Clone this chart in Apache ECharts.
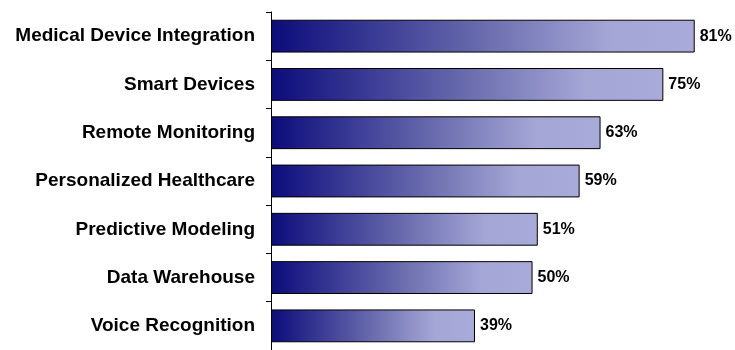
<!DOCTYPE html>
<html>
<head>
<meta charset="utf-8">
<script src="https://cdn.jsdelivr.net/npm/echarts@6/dist/echarts.min.js"></script>
<style>
  html, body { margin: 0; padding: 0; background: #fff; }
  #chart { width: 735px; height: 350px; }
</style>
</head>
<body>
<div id="chart"></div>
<script>
// Share of respondents per technology area (top to bottom)
const categories = [
  'Medical Device Integration',
  'Smart Devices',
  'Remote Monitoring',
  'Personalized Healthcare',
  'Predictive Modeling',
  'Data Warehouse',
  'Voice Recognition'
];
const values = [81, 75, 63, 59, 51, 50, 39];

const chart = echarts.init(document.getElementById('chart'));

const barFill = new echarts.graphic.LinearGradient(0, 0, 1, 0, [
  { offset: 0, color: '#0c0c7c' },
  { offset: 0.5, color: '#6a6cae' },
  { offset: 0.8, color: '#a4a6d6' },
  { offset: 1, color: '#a8aad9' }
]);

chart.setOption({
  animation: false,
  grid: { left: 271, top: 12, right: 0, bottom: -5, containLabel: false },
  xAxis: {
    type: 'value',
    min: 0,
    max: 88.7,
    show: false
  },
  yAxis: {
    type: 'category',
    inverse: true,
    data: categories,
    axisLine: { show: true, lineStyle: { color: '#000', width: 1 } },
    axisTick: { show: true, length: 5, lineStyle: { color: '#000' } },
    axisLabel: {
      color: '#000',
      fontFamily: 'Liberation Sans, Arial, sans-serif',
      fontWeight: 'bold',
      fontSize: 19,
      margin: 16
    },
    splitLine: { show: false }
  },
  series: [{
    type: 'bar',
    data: values,
    barCategoryGap: '32%',
    itemStyle: {
      color: barFill,
      borderColor: '#000',
      borderWidth: 1
    },
    label: {
      show: true,
      position: 'right',
      distance: 5,
      formatter: '{c}%',
      color: '#000',
      fontFamily: 'Liberation Sans, Arial, sans-serif',
      fontWeight: 'bold',
      fontSize: 16
    }
  }]
});
</script>
</body>
</html>
